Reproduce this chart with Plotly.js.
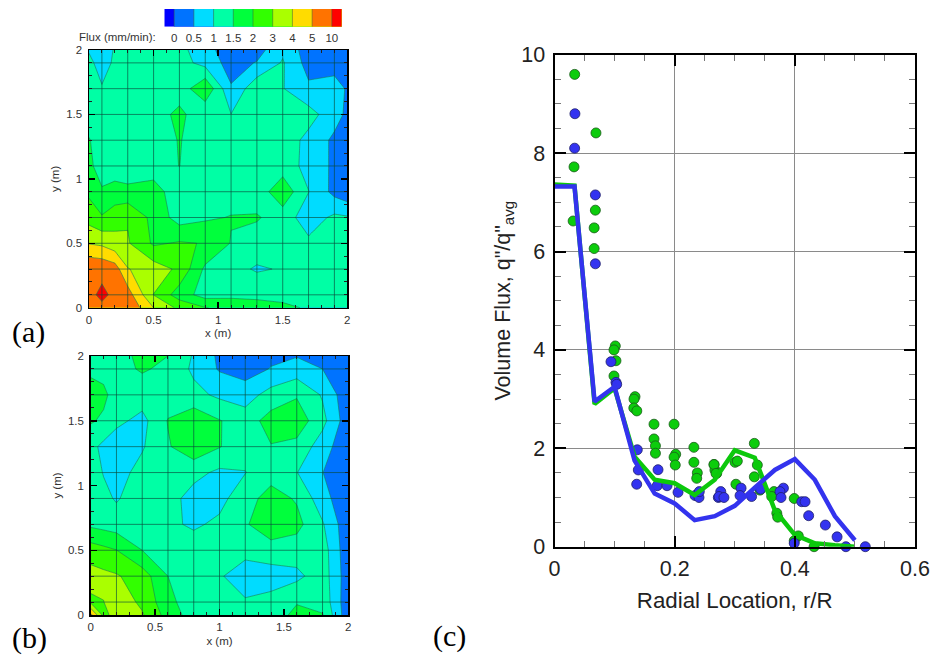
<!DOCTYPE html>
<html><head><meta charset="utf-8">
<script src="https://cdn.plot.ly/plotly-3.0.1.min.js"></script>
<style>html,body{margin:0;padding:0;background:#fff}#p{width:930px;height:655px}</style>
</head><body><div id="p"></div>
<script>
// Flux contour levels (mm/min)
const fluxLevels = [0, 0.5, 1, 1.5, 2, 3, 4, 5, 10];
const fluxLabels = ['0', '0.5', '1', '1.5', '2', '3', '4', '5', '10'];
const bandColors = ['#0000ff','#0073ff','#00dcff','#00ffa5','#00ff3c','#32ff00','#aaff00','#ffdc00','#ff7300','#ff0000'];

// Panel (a): flux, rows bottom to top
const xA = [0, 0.1, 0.2, 0.3, 0.5, 0.7, 0.9, 1.1, 1.3, 1.5, 1.7, 1.9, 2];
const yA = [0, 0.1, 0.3, 0.5, 0.7, 0.9, 1.1, 1.3, 1.5, 1.7, 1.9, 2];
const fluxA = [
 [9, 9.3, 9.5, 9.5, 4, 2.75, 2.03, 1.9, 1.75, 1.6, 1.45, 1.4, 1.4],
 [9.1, 10.75, 9.25, 7.35, 2.98, 1.75, 1.3, 1.35, 1.35, 1.35, 1.3, 1.3, 1.3],
 [9.5, 9, 7.5, 4.05, 3.5, 2.8, 1.4, 1.15, 0.95, 1.035, 1.15, 1.25, 1.25],
 [3.95, 3.8, 3.35, 3.1, 1.925, 2.1, 1.975, 1.475, 1.25, 1.15, 1.1, 1.25, 1.25],
 [2.6, 2.1, 2.6, 2.9, 1.85, 1.275, 1.425, 1.525, 1.55, 1.25, 0.75, 1.1, 1.05],
 [1.9, 1.55, 1.675, 1.65, 1.625, 1.325, 1.2, 1.25, 1.2, 1.85, 1.01, 0.35, 0.15],
 [1.6, 1.3, 1.25, 1.15, 1.35, 1.505, 1.25, 1.25, 1.25, 1.25, 0.85, 0.4, 0.25],
 [1.525, 1.3, 1.25, 1.25, 1.25, 1.525, 1.25, 1.3, 1.3, 1.3, 0.85, 0.4, 0.25],
 [1.3, 1.25, 1.25, 1.25, 1.2, 1.66, 1.05, 1.01, 1.25, 1.3, 1.2, 0.7, 0.4],
 [1.2, 1.025, 1.15, 1.2, 1.2, 1.18, 1.95, 0.55, 1.37, 1.025, 0.6, 0.6, 0.475],
 [1.075, 0.875, 1.05, 1.2, 1.2, 1.2, 0.825, 0.3, 0.53, 1.05, 0.3, 0.4, 0.3],
 [0.975, 0.85, 1.025, 1.2, 1.2, 1.2, 0.6, 0.35, 0.3, 0.9, 0.25, 0.35, 0.3]
];
const gridXA = [0.1, 0.3, 0.5, 0.7, 0.9, 1.1, 1.3, 1.5, 1.7, 1.9];
const gridYA = [0.1, 0.3, 0.5, 0.7, 0.9, 1.1, 1.3, 1.5, 1.7, 1.9];

// Panel (b): flux, rows bottom to top
const xB = [0, 0.1, 0.2, 0.4, 0.6, 0.8, 1, 1.2, 1.4, 1.6, 1.8, 2];
const yB = [0, 0.1, 0.3, 0.5, 0.7, 0.9, 1.1, 1.3, 1.5, 1.7, 1.9, 2];
const fluxB = [
 [6.5, 2.7, 3.4, 3.1, 1.8, 1.25, 1.25, 1.25, 1.3, 1.6, 1.525, 0.15],
 [2.8, 2.98, 3.6, 2.8, 1.65, 1.2, 1.25, 1.05, 1.175, 1.475, 1.35, 0.15],
 [3.4, 3.25, 3.1, 2.5, 1.5, 1.25, 1.05, 0.75, 0.75, 0.875, 1.275, 0.2],
 [2.5, 2.26, 2.02, 1.5, 1.3, 1.25, 1.25, 1.15, 1.3, 1.25, 1.25, 0.15],
 [1.4, 1.325, 1.25, 1.3, 1.1, 0.925, 1.1, 1.45, 1.8, 1.65, 1.05, 0.15],
 [1.3, 1.125, 0.95, 1.3, 1.2, 0.8, 0.85, 1.3, 1.7, 1.45, 0.7, 0.1],
 [1.25, 0.975, 0.8, 1.175, 1.35, 1.15, 0.9, 0.985, 1.3, 1.015, 0.51, 0.1],
 [1.15, 0.875, 0.7, 0.95, 1.45, 1.85, 1.525, 1.2, 1.475, 1.35, 0.75, 0.1],
 [1.55, 1.425, 1.125, 0.85, 1.525, 1.85, 1.525, 1.25, 1.7, 1.8, 1.15, 0.2],
 [1.8, 1.6, 1.3, 1.25, 1.25, 1.15, 0.9, 0.775, 1.2, 1.45, 0.95, 0.15],
 [1.35, 1.35, 1.35, 1.55, 1.4, 0.9, 0.45, 0.275, 0.525, 0.725, 0.5, 0.25],
 [1.45, 1.35, 1.35, 1.6, 1.5, 0.95, 0.4, 0.25, 0.4, 0.475, 0.3, 0.2]
];
const gridXB = [0.2, 0.4, 0.6, 0.8, 1, 1.2, 1.4, 1.6, 1.8];
const gridYB = [0.1, 0.3, 0.5, 0.7, 0.9, 1.1, 1.3, 1.5, 1.7, 1.9];

// Panel (c): measured points
const greenR = [0.0336,0.069,0.0325,0.031,0.068,0.066,0.066,0.1012,0.099,0.1023,0.099,0.134,0.1323,0.132,0.137,0.1656,0.199,0.1656,0.168,0.168,0.2017,0.199,0.201,0.232,0.232,0.2377,0.2367,0.2655,0.267,0.27,0.3326,0.3005,0.3043,0.2655,0.2688,0.3376,0.3326,0.302,0.3653,0.3615,0.37,0.3715,0.342,0.399,0.4058,0.399,0.432];
const greenQ = [9.6,8.41,7.72,6.62,6.84,6.48,6.06,4.08,4.0,3.78,3.47,3.05,3.0,2.82,2.76,2.49,2.49,2.19,2.05,1.9,1.88,1.82,1.66,2.02,1.715,1.5,1.39,1.67,1.56,1.49,2.1,1.715,1.74,1.67,1.49,1.66,1.42,1.27,1.12,1.02,0.68,0.6,1.15,0.98,0.22,0.12,0];
const blueR = [0.034,0.0335,0.068,0.068,0.094,0.1023,0.1035,0.1378,0.1395,0.1368,0.1723,0.171,0.1873,0.2056,0.2339,0.2405,0.241,0.2727,0.3105,0.2767,0.3088,0.2738,0.282,0.328,0.343,0.381,0.3753,0.377,0.4115,0.417,0.423,0.4508,0.4703,0.485,0.5173,0.399];
const blueQ = [8.8,8.1,7.15,5.75,3.76,3.34,3.3,1.97,1.56,1.27,1.565,1.24,1.24,1.105,1.04,1.0,1.12,1.0,1.19,1.12,1.04,1.02,1.0,1.02,1.17,1.19,1.12,1.0,0.915,0.915,0.63,0.44,0.2,0,0,0.07];

// Panel (c): model curves
const curveR = [0,0.0333,0.0667,0.1,0.1333,0.1667,0.2,0.2333,0.2667,0.3,0.3333,0.3667,0.4,0.4333,0.4667,0.5];
const greenCurve = [7.36,7.34,2.9,3.22,1.83,1.36,1.29,1.05,1.36,1.96,1.81,0.74,0.24,0.07,0.03,0];
const blueCurve = [7.32,7.32,2.95,3.25,1.75,1.08,0.88,0.54,0.62,0.83,1.2,1.56,1.78,1.36,0.62,0.13];

const W = 930, H = 655;
const domX = (a, b) => [a / W, b / W];
const domY = (top, bottom) => [1 - bottom / H, 1 - top / H];

function bandPos(v) {
  const n = fluxLevels.length;
  if (v >= fluxLevels[n - 1]) return n - 1 + (v - fluxLevels[n - 1]) / 5;
  for (let i = 0; i < n - 1; i++) {
    if (v <= fluxLevels[i + 1]) return i + (v - fluxLevels[i]) / (fluxLevels[i + 1] - fluxLevels[i]);
  }
}
const stepScale = [];
bandColors.forEach((c, i) => {
  stepScale.push([i / bandColors.length, c]);
  stepScale.push([(i + 1) / bandColors.length, c]);
});
const contourStyle = {
  type: 'contour', autocontour: false, autocolorscale: false, showscale: false,
  zauto: false, zmin: -1, zmax: 9, colorscale: stepScale,
  contours: {start: 0, end: 8, size: 1, coloring: 'fill', showlines: true},
  line: {color: '#1f7a50', width: 0.6, smoothing: 0},
  hoverinfo: 'skip'
};
function gridTrace(xs, ys, xa, ya) {
  const gx = [], gy = [];
  xs.forEach(v => { gx.push(v, v, null); gy.push(0, 2, null); });
  ys.forEach(v => { gx.push(0, 2, null); gy.push(v, v, null); });
  return {type: 'scatter', mode: 'lines', x: gx, y: gy, xaxis: xa, yaxis: ya,
    line: {color: '#0a4a3a', width: 0.65}, hoverinfo: 'skip', showlegend: false};
}
const traces = [
  Object.assign({}, contourStyle, {x: xA, y: yA, z: fluxA.map(r => r.map(bandPos)), xaxis: 'x', yaxis: 'y'}),
  gridTrace(gridXA, gridYA, 'x', 'y'),
  Object.assign({}, contourStyle, {x: xB, y: yB, z: fluxB.map(r => r.map(bandPos)), xaxis: 'x2', yaxis: 'y2'}),
  gridTrace(gridXB, gridYB, 'x2', 'y2'),
  (function () {
    const pos = fluxLevels.map((_, i) => i);
    const barX = [-0.5].concat(pos, [8.5]);
    return Object.assign({}, contourStyle, {x: barX, y: [0, 1], z: [barX, barX], xaxis: 'x4', yaxis: 'y4',
      line: {color: '#3a5a3a', width: 0.5, smoothing: 0}});
  })(),
  {type: 'scatter', mode: 'markers', x: greenR, y: greenQ, xaxis: 'x3', yaxis: 'y3', cliponaxis: false,
    marker: {size: 10, color: '#0ccc0c', line: {color: '#1a5a1a', width: 0.8}}},
  {type: 'scatter', mode: 'markers', x: blueR, y: blueQ, xaxis: 'x3', yaxis: 'y3', cliponaxis: false,
    marker: {size: 10, color: '#3333f0', line: {color: '#20206a', width: 0.8}}},
  {type: 'scatter', mode: 'lines', x: curveR, y: greenCurve, xaxis: 'x3', yaxis: 'y3', cliponaxis: false,
    line: {color: '#0cc80c', width: 4.5}},
  {type: 'scatter', mode: 'lines', x: curveR, y: blueCurve, xaxis: 'x3', yaxis: 'y3', cliponaxis: false,
    line: {color: '#3333ee', width: 4.5}}
];

const smallFont = {family: 'Liberation Sans, Arial, sans-serif', size: 11.5, color: '#333'};
const bigFont = {family: 'Liberation Sans, Arial, sans-serif', size: 21.5, color: '#222'};
const titleFont = {family: 'Liberation Sans, Arial, sans-serif', size: 22.3, color: '#222'};
function mapAxis(dom, anchor, title, standoff, labelGap) {
  return {
    domain: dom, anchor: anchor, range: [0, 2], tick0: 0, dtick: 0.5, ticks: 'inside', ticklen: 6, tickwidth: 1.5,
    tickcolor: '#000', showgrid: false, zeroline: false, showline: true, linecolor: '#000', linewidth: 1.5, mirror: 'ticks',
    tickfont: smallFont, ticklabelstandoff: labelGap, minor: {dtick: 0.1, ticks: 'inside', ticklen: 3, tickwidth: 1, tickcolor: '#222', showgrid: false},
    title: {text: title, font: smallFont, standoff: standoff}, layer: 'above traces'
  };
}
const layout = {
  width: W, height: H, autosize: false, margin: {l: 0, r: 0, t: 0, b: 0, pad: 0},
  paper_bgcolor: '#fff', plot_bgcolor: '#fff', showlegend: false,
  xaxis: mapAxis(domX(89, 347.3), 'y', 'x (m)', 4, 1),
  yaxis: mapAxis(domY(50, 307.7), 'x', 'y (m)', 4, 3),
  xaxis2: mapAxis(domX(90.7, 348.3), 'y2', 'x (m)', 4, 1),
  yaxis2: mapAxis(domY(356, 615), 'x2', 'y (m)', 4, 3),
  xaxis3: {domain: domX(554.5, 915), anchor: 'y3', range: [0, 0.6], tick0: 0, dtick: 0.2, ticks: 'inside', ticklen: 11, tickwidth: 2,
    tickcolor: '#000', showgrid: true, gridcolor: '#8a8a8a', gridwidth: 1, zeroline: false, showline: true, linecolor: '#000', linewidth: 2, mirror: 'ticks',
    tickfont: bigFont, ticklabelstandoff: 1, minor: {dtick: 0.05, ticks: 'inside', ticklen: 6, tickwidth: 1, tickcolor: '#777', showgrid: false},
    title: {text: 'Radial Location, r/R', font: titleFont, standoff: 13}},
  yaxis3: {domain: domY(54.7, 546.7), anchor: 'x3', range: [0, 10], tick0: 0, dtick: 2, ticks: 'inside', ticklen: 11, tickwidth: 2,
    tickcolor: '#000', showgrid: true, gridcolor: '#8a8a8a', gridwidth: 1, zeroline: false, showline: true, linecolor: '#000', linewidth: 2, mirror: 'ticks',
    tickfont: bigFont, ticklabelstandoff: 3, minor: {dtick: 0.5, ticks: 'inside', ticklen: 6, tickwidth: 1, tickcolor: '#777', showgrid: false},
    title: {text: 'Volume Flux, q"/q"<sub>avg</sub>', font: bigFont, standoff: 5}},
  xaxis4: {domain: domX(164.3, 341.7), anchor: 'y4', range: [-0.5, 8.5], tickmode: 'array', tickvals: fluxLevels.map((_, i) => i), ticktext: fluxLabels,
    ticks: '', ticklabelstandoff: 3, showgrid: false, zeroline: false, showline: false, tickfont: {family: 'Liberation Sans, Arial, sans-serif', size: 11.5, color: '#333'}},
  yaxis4: {domain: domY(9, 26.7), anchor: 'x4', range: [0, 1], showticklabels: false, ticks: '', showgrid: false, zeroline: false, showline: false},
  annotations: [
    {xref: 'paper', yref: 'paper', x: 157.5 / W, y: 1 - 37 / H, xanchor: 'right', yanchor: 'middle', showarrow: false, text: 'Flux (mm/min):',
      font: {family: 'Liberation Sans, Arial, sans-serif', size: 11.5, color: '#333'}},
    {xref: 'paper', yref: 'paper', x: 10 / W, y: 1 - 332 / H, xanchor: 'left', yanchor: 'middle', showarrow: false, text: '(a)',
      font: {family: 'Liberation Serif, Times New Roman, serif', size: 30, color: '#000'}},
    {xref: 'paper', yref: 'paper', x: 10 / W, y: 1 - 638 / H, xanchor: 'left', yanchor: 'middle', showarrow: false, text: '(b)',
      font: {family: 'Liberation Serif, Times New Roman, serif', size: 30, color: '#000'}},
    {xref: 'paper', yref: 'paper', x: 431 / W, y: 1 - 636 / H, xanchor: 'left', yanchor: 'middle', showarrow: false, text: '(c)',
      font: {family: 'Liberation Serif, Times New Roman, serif', size: 30, color: '#000'}}
  ]
};
Plotly.newPlot('p', traces, layout, {displayModeBar: false, staticPlot: true});
</script></body></html>
